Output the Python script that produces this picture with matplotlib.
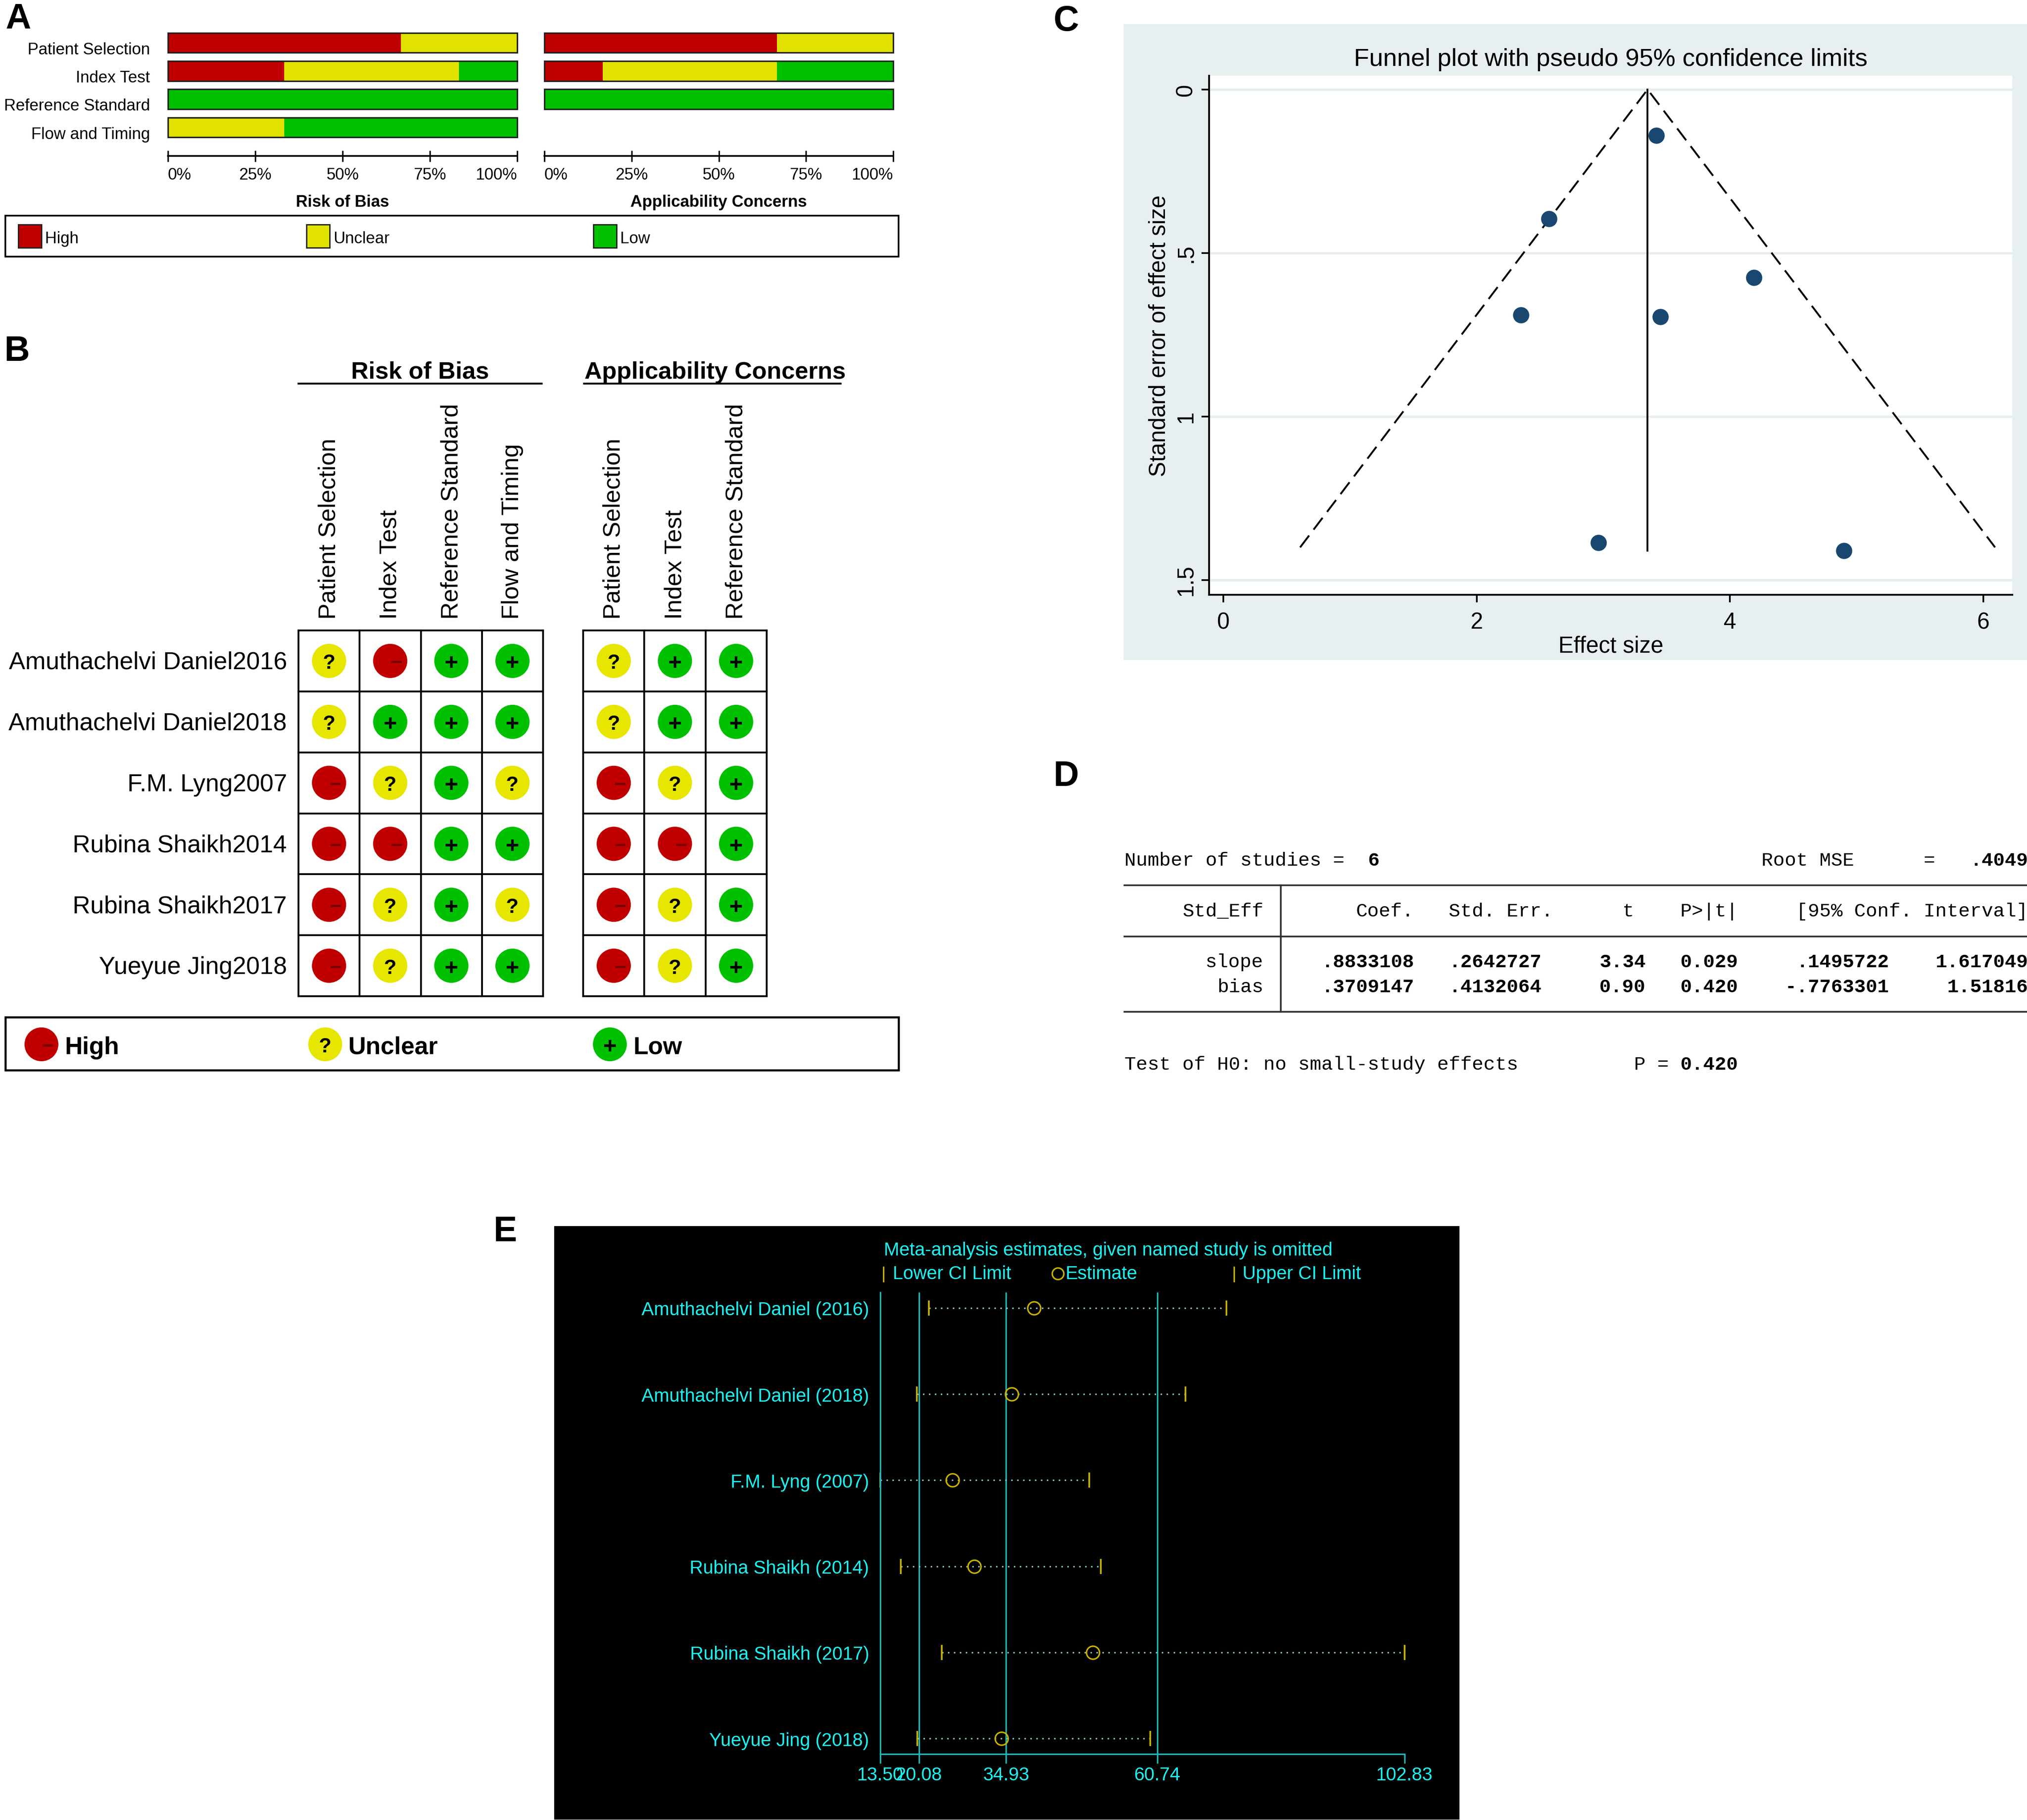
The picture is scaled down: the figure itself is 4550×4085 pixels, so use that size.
import matplotlib
matplotlib.use('Agg')
import matplotlib.pyplot as plt
from matplotlib.patches import Rectangle, Circle
import numpy as np

plt.rcParams['font.family'] = ['Liberation Sans', 'DejaVu Sans']

W, H = 4550, 4086
DPI = 300

# ---------------- data ----------------
studies = ['Amuthachelvi Daniel2016', 'Amuthachelvi Daniel2018', 'F.M. Lyng2007',
           'Rubina Shaikh2014', 'Rubina Shaikh2017', 'Yueyue Jing2018']
rob_domains = ['Patient Selection', 'Index Test', 'Reference Standard', 'Flow and Timing']
ac_domains = ['Patient Selection', 'Index Test', 'Reference Standard']
# H = high, U = unclear, L = low
rob = [['U', 'H', 'L', 'L'],
       ['U', 'L', 'L', 'L'],
       ['H', 'U', 'L', 'U'],
       ['H', 'H', 'L', 'L'],
       ['H', 'U', 'L', 'U'],
       ['H', 'U', 'L', 'L']]
ac = [['U', 'L', 'L'],
      ['U', 'L', 'L'],
      ['H', 'U', 'L'],
      ['H', 'H', 'L'],
      ['H', 'U', 'L'],
      ['H', 'U', 'L']]
pct_ticks = [0, 25, 50, 75, 100]
pct_labels = ['0%', '25%', '50%', '75%', '100%']

# funnel plot
effect = [3.42, 2.57, 4.19, 2.35, 3.45, 2.96, 4.90]
std_err = [0.14, 0.395, 0.575, 0.69, 0.695, 1.385, 1.41]
pooled = 3.35
se_max = 1.40

# Egger test output
n_studies = '6'
root_mse = '.4049'
egger_terms = ['slope', 'bias']
egger_coef = ['.8833108', '.3709147']
egger_se = ['.2642727', '.4132064']
egger_t = ['3.34', '0.90']
egger_p = ['0.029', '0.420']
egger_lo = ['.1495722', '-.7763301']
egger_hi = ['1.617049', '1.51816']
egger_test_p = '0.420'

# influence analysis
omit_labels = ['Amuthachelvi Daniel (2016)', 'Amuthachelvi Daniel (2018)', 'F.M. Lyng (2007)',
               'Rubina Shaikh (2014)', 'Rubina Shaikh (2017)', 'Yueyue Jing (2018)']
omit_est = [39.68, 35.88, 25.79, 29.49, 49.67, 34.18]
omit_lo = [21.79, 19.70, 13.50, 17.00, 23.99, 19.80]
omit_hi = [72.45, 65.46, 49.07, 51.07, 102.83, 59.46]
full_lo, full_est, full_hi = 20.08, 34.93, 60.74

RED, YEL, GRN = '#C00000', '#E2E200', '#00C000'
fill = {'H': RED, 'U': YEL, 'L': GRN}

fig = plt.figure(figsize=(W / DPI, H / DPI), dpi=DPI)


def px_axes(x0, y0, x1, y1):
    return fig.add_axes([x0 / W, 1 - y1 / H, (x1 - x0) / W, (y1 - y0) / H])


# overlay in pixel coordinates for free text and boxes
ov = px_axes(0, 0, W, H)
ov.set_xlim(0, W)
ov.set_ylim(H, 0)
ov.axis('off')

for lab, x, y in [('A', 12, 44), ('B', 10, 789), ('C', 2365, 49), ('D', 2365, 1744), ('E', 1108, 2766)]:
    ov.text(x, y, lab, fontsize=19, fontweight='bold', ha='left', va='center')

# ---------------- A: summary bars ----------------
for judg, domains, x0, x1, title in [(rob, rob_domains, 377, 1161, 'Risk of Bias'),
                                     (ac, ac_domains, 1222, 2005, 'Applicability Concerns')]:
    ax = px_axes(x0, 65.5, x1, 351)
    ax.set_facecolor('none')
    ax.set_xlim(0, 100)
    ax.set_ylim(4.014, -0.5)
    for i in range(len(domains)):
        col = [row[i] for row in judg]
        left = 0
        for k in 'HUL':
            v = 100 * col.count(k) / len(col)
            if v > 0:
                ax.barh(i, v, left=left, height=0.70, color=fill[k], edgecolor='none')
            left += v
        ax.add_patch(Rectangle((0, i - 0.35), 100, 0.70, fill=False, edgecolor='#202020',
                               linewidth=0.8, clip_on=False))
    for s in ['top', 'right', 'left']:
        ax.spines[s].set_visible(False)
    ax.spines['bottom'].set_linewidth(0.9)
    ax.set_yticks([])
    ax.set_xticks(pct_ticks)
    tl = ax.set_xticklabels(pct_labels)
    tl[0].set_ha('left')
    tl[-1].set_ha('right')
    ax.tick_params(axis='x', direction='inout', length=6, width=0.8, labelsize=8.8, pad=3)
    ov.text((x0 + x1) / 2, 455, title, fontsize=8.8, fontweight='bold', ha='center', va='center')

for i, d in enumerate(rob_domains):
    ov.text(337, 112 + i * 63.5, d, fontsize=8.8, ha='right', va='center')

ov.add_patch(Rectangle((12, 485), 2005, 92, fill=False, edgecolor='black', linewidth=0.9))
for k, name, x in [('H', 'High', 41), ('U', 'Unclear', 688), ('L', 'Low', 1332)]:
    ov.add_patch(Rectangle((x, 505), 52, 52, facecolor=fill[k], edgecolor='#202020', linewidth=0.7))
    ov.text(x + 60, 536, name, fontsize=8.8, ha='left', va='center')

# ---------------- B: traffic-light grid ----------------
symbol = {'H': ('\u2212', '#7A0000', 0.10, 11), 'U': ('?', 'black', 0.0, 11), 'L': ('+', 'black', 0.0, 12.5)}
for judg, domains, x0, x1 in [(rob, rob_domains, 670, 1219), (ac, ac_domains, 1309, 1721)]:
    ax = px_axes(x0, 1416, x1, 2237)
    n = len(domains)
    ax.set_xlim(0, n)
    ax.set_ylim(6, 0)
    ax.axis('off')
    for r in range(7):
        ax.plot([0, n], [r, r], color='black', lw=1.0, clip_on=False, solid_capstyle='projecting')
    for c in range(n + 1):
        ax.plot([c, c], [0, 6], color='black', lw=1.0, clip_on=False, solid_capstyle='projecting')
    for r, row in enumerate(judg):
        for c, k in enumerate(row):
            ax.scatter(c + 0.5, r + 0.5, s=340, color=fill[k] if k != 'U' else '#E6E600',
                       edgecolors='none', zorder=3)
            sym, scol, dx, fs = symbol[k]
            ax.text(c + 0.5 + dx, r + 0.5, sym, fontsize=fs, fontweight='bold', color=scol,
                    ha='center', va='center_baseline', zorder=4)
    for c, d in enumerate(domains):
        ax.text(c + 0.5, -0.19, d, rotation=90, fontsize=13, ha='center', va='bottom', clip_on=False)

ov.text(943, 836, 'Risk of Bias', fontsize=13, fontweight='bold', ha='center', va='center')
ov.plot([670, 1216], [862, 862], color='black', lw=1.0)
ov.text(1605, 836, 'Applicability Concerns', fontsize=13, fontweight='bold', ha='center', va='center')
ov.plot([1311, 1887], [862, 862], color='black', lw=1.0)
for r, s in enumerate(studies):
    ov.text(644, 1488 + r * 136.8, s, fontsize=13.2, ha='right', va='center')

ov.add_patch(Rectangle((12, 2284), 2005, 119, fill=False, edgecolor='black', linewidth=1.1))
for k, name, x in [('H', 'High', 93), ('U', 'Unclear', 730), ('L', 'Low', 1369)]:
    ov.add_patch(Circle((x, 2345), 38, facecolor=fill[k] if k != 'U' else '#E6E600', edgecolor='none'))
    sym, scol, dx, fs = symbol[k]
    ov.text(x + dx * 137, 2345, sym, fontsize=fs, fontweight='bold', color=scol,
            ha='center', va='center_baseline')
    ov.text(x + 52, 2352, name, fontsize=13.2, fontweight='bold', ha='left', va='center')

# ---------------- C: funnel plot ----------------
ov.add_patch(Rectangle((2524, 57), W - 2524, 1480 - 57, color='#E8EFF1', zorder=0))
axc = px_axes(2714, 171, 4517, 1336)
axc.set_facecolor('white')
axc.set_xlim(-0.113, 6.23)
axc.set_ylim(1.545, -0.042)
axc.set_yticks([0, 0.5, 1, 1.5])
axc.set_yticklabels(['0', '.5', '1', '1.5'], rotation=90, va='center')
axc.yaxis.grid(True, color='#E6EEF0', lw=1.3)
axc.set_axisbelow(True)
axc.set_xticks([0, 2, 4, 6])
axc.plot([pooled - 1.96 * se_max, pooled, pooled + 1.96 * se_max], [se_max, 0, se_max],
         color='black', lw=1.0, ls=(0, (8, 4)))
axc.plot([pooled, pooled], [0, max(std_err)], color='black', lw=1.0)
axc.scatter(effect, std_err, s=60, color='#1A476F', zorder=3)
for s in ['top', 'right']:
    axc.spines[s].set_visible(False)
for s in ['left', 'bottom']:
    axc.spines[s].set_linewidth(1.0)
axc.tick_params(axis='both', length=4, width=0.9, labelsize=12.2)
axc.tick_params(axis='x', pad=5)
axc.tick_params(axis='y', pad=2.5)
axc.set_xlabel('Effect size', fontsize=12.3, va='center')
axc.xaxis.set_label_coords(0.5, -0.0987)
axc.set_ylabel('Standard error of effect size', fontsize=12.3, va='center')
axc.yaxis.set_label_coords(-0.062, 0.5)
axc.text(0.5, 1.032, 'Funnel plot with pseudo 95% confidence limits', transform=axc.transAxes,
         fontsize=13.5, ha='center', va='center')

# ---------------- D: Egger test table ----------------
mono = ['Liberation Mono', 'DejaVu Sans Mono']
CW, XD = 26, 2524


def mtext(col, y, s, bold=False):
    ov.text(XD + col * CW, y + 14, s, family=mono, fontsize=10.4,
            fontweight='bold' if bold else 'normal', ha='left', va='baseline')


mtext(0, 1929, 'Number of studies =')
mtext(21, 1929, n_studies, True)
mtext(55, 1929, 'Root MSE')
mtext(69, 1929, '=')
mtext(73, 1929, root_mse, True)
mtext(5, 2043, 'Std_Eff')
mtext(20, 2043, 'Coef.')
mtext(28, 2043, 'Std. Err.')
mtext(43, 2043, 't')
mtext(48, 2043, 'P>|t|')
mtext(58, 2043, '[95% Conf. Interval]')
for i, y in enumerate([2157, 2213]):
    term = egger_terms[i]
    mtext(12 - len(term), y, term)
    for val, end in [(egger_coef[i], 24), (egger_se[i], 35), (egger_t[i], 44),
                     (egger_p[i], 52), (egger_lo[i], 65), (egger_hi[i], 77)]:
        mtext(end + 1 - len(val), y, val, True)
mtext(0, 2387, 'Test of H0: no small-study effects')
mtext(44, 2387, 'P =')
mtext(48, 2387, egger_test_p, True)
for y in [1988, 2103, 2272]:
    ov.plot([XD, W], [y, y], color='#303030', lw=0.9)
ov.plot([XD + 13.5 * CW, XD + 13.5 * CW], [1988, 2272], color='#303030', lw=0.9)

# ---------------- E: influence analysis ----------------
CYAN, TEAL, YEL_E = '#1EF0F0', '#1FB8B8', '#C8B400'
ov.add_patch(Rectangle((1246, 2755), 3274 - 1246, 4083 - 2755, color='black'))
axe = px_axes(1976, 2902, 3153, 3938)
axe.set_facecolor('none')
axe.set_xlim(13.5, 102.83)
axe.set_ylim(5.181, -0.181)
yy = np.arange(len(omit_labels))
for v in [full_lo, full_est, full_hi]:
    axe.axvline(v, color=TEAL, lw=0.8)
axe.hlines(yy, omit_lo, omit_hi, color='#8CC4C4', lw=0.8, linestyles=(0, (1, 3)))
axe.plot(omit_lo, yy, '|', color=YEL_E, ms=8, mew=0.9, clip_on=False)
axe.plot(omit_hi, yy, '|', color=YEL_E, ms=8, mew=0.9, clip_on=False)
axe.plot(omit_est, yy, 'o', mfc='none', mec=YEL_E, ms=7, mew=0.8, clip_on=False)
for s in ['top', 'right']:
    axe.spines[s].set_visible(False)
for s in ['left', 'bottom']:
    axe.spines[s].set_color(TEAL)
    axe.spines[s].set_linewidth(0.8)
xt = [omit_lo[2], full_lo, full_est, full_hi, omit_hi[4]]
axe.set_xticks(xt)
axe.set_xticklabels(['%.2f' % v for v in xt])
axe.tick_params(axis='x', color=TEAL, labelcolor=CYAN, length=5, width=0.8, labelsize=10, pad=1.5)
axe.set_yticks(yy)
axe.set_yticklabels(omit_labels)
axe.tick_params(axis='y', length=0, labelcolor=CYAN, labelsize=10, pad=6)

ov.text(2488, 2807, 'Meta-analysis estimates, given named study is omitted', color=CYAN,
        fontsize=10, ha='center', va='center')
ov.plot([1983, 1983], [2845, 2877], color=YEL_E, lw=0.8)
ov.text(2004, 2860, 'Lower CI Limit', color=CYAN, fontsize=10, ha='left', va='center')
ov.add_patch(Circle((2375, 2860), 13, fill=False, edgecolor=YEL_E, linewidth=0.8))
ov.text(2392, 2860, 'Estimate', color=CYAN, fontsize=10, ha='left', va='center')
ov.plot([2770, 2770], [2845, 2877], color=YEL_E, lw=0.8)
ov.text(2789, 2860, 'Upper CI Limit', color=CYAN, fontsize=10, ha='left', va='center')

fig.savefig('out.png', dpi=DPI)
